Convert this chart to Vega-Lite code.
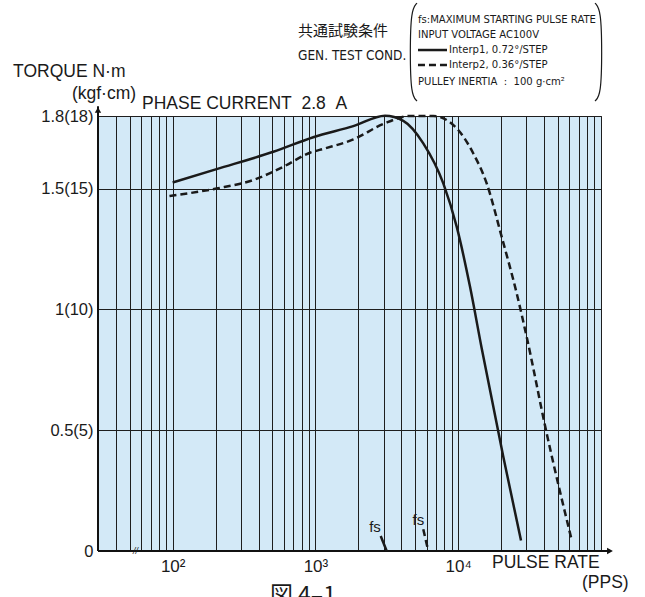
{
  "$schema": "https://vega.github.io/schema/vega-lite/v6.json",
  "width": 503,
  "height": 435,
  "autosize": {"type": "none"},
  "padding": {"left": 98, "top": 116, "right": 44, "bottom": 46},
  "background": "white",
  "config": {
    "view": {"fill": "#d3e9f7", "stroke": "#2a2a2a", "strokeWidth": 1},
    "font": "Liberation Sans"
  },
  "datasets": {
    "lines": [
      {"series": "Interp1", "pps": 100, "torque": 1.525},
      {"series": "Interp1", "pps": 203, "torque": 1.58},
      {"series": "Interp1", "pps": 507, "torque": 1.652},
      {"series": "Interp1", "pps": 966, "torque": 1.712},
      {"series": "Interp1", "pps": 1842, "torque": 1.758},
      {"series": "Interp1", "pps": 3070, "torque": 1.801},
      {"series": "Interp1", "pps": 4125, "torque": 1.78},
      {"series": "Interp1", "pps": 5692, "torque": 1.687},
      {"series": "Interp1", "pps": 7862, "torque": 1.521},
      {"series": "Interp1", "pps": 9757, "torque": 1.342},
      {"series": "Interp1", "pps": 12090, "torque": 1.094},
      {"series": "Interp1", "pps": 14600, "torque": 0.839},
      {"series": "Interp1", "pps": 20690, "torque": 0.39},
      {"series": "Interp1", "pps": 27530, "torque": 0.043},
      {"series": "Interp2", "pps": 95, "torque": 1.469},
      {"series": "Interp2", "pps": 203, "torque": 1.5},
      {"series": "Interp2", "pps": 367, "torque": 1.535},
      {"series": "Interp2", "pps": 595, "torque": 1.59},
      {"series": "Interp2", "pps": 916, "torque": 1.648},
      {"series": "Interp2", "pps": 1167, "torque": 1.666},
      {"series": "Interp2", "pps": 1842, "torque": 1.703},
      {"series": "Interp2", "pps": 2988, "torque": 1.767},
      {"series": "Interp2", "pps": 4596, "torque": 1.8},
      {"series": "Interp2", "pps": 6692, "torque": 1.8},
      {"series": "Interp2", "pps": 9757, "torque": 1.749},
      {"series": "Interp2", "pps": 12760, "torque": 1.645},
      {"series": "Interp2", "pps": 15850, "torque": 1.52},
      {"series": "Interp2", "pps": 20160, "torque": 1.3},
      {"series": "Interp2", "pps": 25680, "torque": 1.066},
      {"series": "Interp2", "pps": 30320, "torque": 0.88},
      {"series": "Interp2", "pps": 41190, "torque": 0.5},
      {"series": "Interp2", "pps": 62330, "torque": 0.045},
      {"series": "fs1", "pps": 2865, "torque": 0.062},
      {"series": "fs1", "pps": 3156, "torque": 0},
      {"series": "fs2", "pps": 5692, "torque": 0.09},
      {"series": "fs2", "pps": 6171, "torque": 0},
      {"series": "leg1", "pps": 5226, "torque": 2.073},
      {"series": "leg1", "pps": 8346, "torque": 2.073},
      {"series": "leg2", "pps": 5226, "torque": 2.011},
      {"series": "leg2", "pps": 8346, "torque": 2.011}
    ],
    "brackets": [
      {"side": "left", "seq": 0, "pps": 5144, "torque": 2.2675},
      {"side": "left", "seq": 1, "pps": 4670, "torque": 2.2386},
      {"side": "left", "seq": 2, "pps": 4596, "torque": 2.0648},
      {"side": "left", "seq": 3, "pps": 4670, "torque": 1.8868},
      {"side": "left", "seq": 4, "pps": 5144, "torque": 1.862},
      {"side": "right", "seq": 0, "pps": 90800, "torque": 2.2675},
      {"side": "right", "seq": 1, "pps": 100000, "torque": 2.2386},
      {"side": "right", "seq": 2, "pps": 101600, "torque": 2.0648},
      {"side": "right", "seq": 3, "pps": 100000, "torque": 1.8868},
      {"side": "right", "seq": 4, "pps": 90800, "torque": 1.862}
    ],
    "frame": [
      {"edge": "x", "pps": 30, "torque": 0, "pps2": 117500, "torque2": 0},
      {"edge": "y", "pps": 30, "torque": 0, "pps2": 30, "torque2": 1.84}
    ],
    "arrows": [
      {"edge": "x", "pps": 115600, "torque": 0},
      {"edge": "y", "pps": 30, "torque": 1.825}
    ],
    "labels": [
      {"kind": "big", "pps": 7.62, "torque": 1.982, "text": "TORQUE N·m"},
      {"kind": "big", "pps": 19.7, "torque": 1.891, "text": "(kgf·cm)"},
      {"kind": "big", "pps": 61, "torque": 1.85, "text": "PHASE CURRENT\u00a0\u00a02.8\u00a0\u00a0A"},
      {"kind": "big", "pps": 17240, "torque": -0.0497, "text": "PULSE RATE"},
      {"kind": "big", "pps": 73600, "torque": -0.132, "text": "(PPS)"},
      {"kind": "cjk", "pps": 755, "torque": 2.152, "text": "共通試験条件"},
      {"kind": "gen", "pps": 755, "torque": 2.048, "text": "GEN. TEST COND."},
      {"kind": "legend", "pps": 5226, "torque": 2.197, "text": "fs:MAXIMUM STARTING PULSE RATE"},
      {"kind": "legend", "pps": 5226, "torque": 2.135, "text": "INPUT VOLTAGE AC100V"},
      {"kind": "legend", "pps": 8615, "torque": 2.073, "text": "Interp1, 0.72°/STEP"},
      {"kind": "legend", "pps": 8615, "torque": 2.011, "text": "Interp2, 0.36°/STEP"},
      {"kind": "legend", "pps": 5226, "torque": 1.941, "text": "PULLEY INERTIA\u00a0\u00a0:\u00a0\u00a0100 g·cm²"},
      {"kind": "fs", "pps": 2613, "torque": 0.1005, "text": "fs"},
      {"kind": "fs", "pps": 5252, "torque": 0.128, "text": "fs"},
      {"kind": "fig", "pps": 480, "torque": -0.1407, "text": "図 4–1"},
      {"kind": "brk", "pps": 55, "torque": 0, "text": "//"}
    ]
  },
  "encoding": {
    "x": {
      "field": "pps",
      "type": "quantitative",
      "scale": {"type": "log", "domain": [30, 100000], "nice": false},
      "axis": {
        "title": null,
        "values": [30, 40, 50, 60, 70, 80, 90, 100, 200, 300, 400, 500, 600, 700, 800, 900, 1000, 2000, 3000, 4000, 5000, 6000, 7000, 8000, 9000, 10000, 20000, 30000, 40000, 50000, 60000, 70000, 80000, 90000, 100000],
        "grid": true,
        "gridColor": "#1e1e1e",
        "gridWidth": 1,
        "gridOpacity": 1,
        "ticks": false,
        "domain": false,
        "labelExpr": "datum.value == 100 ? '10²' : datum.value == 1000 ? '10³' : datum.value == 10000 ? '10⁴' : ''",
        "labelFontSize": 17,
        "labelColor": "#1a1a1a",
        "labelPadding": 7,
        "labelDx": 5,
        "labelOverlap": false,
        "labelFlush": false,
        "labelBound": false
      }
    },
    "y": {
      "field": "torque",
      "type": "quantitative",
      "scale": {"domain": [0, 1.8], "nice": false, "zero": false},
      "axis": {
        "title": null,
        "values": [0, 0.5, 1, 1.5, 1.8],
        "grid": true,
        "gridColor": "#1e1e1e",
        "gridWidth": 1,
        "gridOpacity": 1,
        "ticks": false,
        "domain": false,
        "labelExpr": "datum.value == 1.8 ? '1.8(18)' : datum.value == 1.5 ? '1.5(15)' : datum.value == 1 ? '1(10)' : datum.value == 0.5 ? '0.5(5)' : '0'",
        "labelFontSize": 16.5,
        "labelColor": "#1a1a1a",
        "labelPadding": 5,
        "labelFlush": false,
        "labelOverlap": false
      }
    }
  },
  "layer": [
    {
      "data": {"name": "frame"},
      "mark": {"type": "rule", "color": "#111", "strokeWidth": 2},
      "encoding": {
        "x2": {"field": "pps2"},
        "y2": {"field": "torque2"}
      }
    },
    {
      "data": {"name": "arrows"},
      "transform": [{"filter": "datum.edge == 'x'"}],
      "mark": {"type": "point", "shape": "triangle-right", "filled": true, "color": "#111", "size": 45, "opacity": 1}
    },
    {
      "data": {"name": "arrows"},
      "transform": [{"filter": "datum.edge == 'y'"}],
      "mark": {"type": "point", "shape": "triangle-up", "filled": true, "color": "#111", "size": 40, "opacity": 1}
    },
    {
      "data": {"name": "lines"},
      "transform": [{"filter": "datum.series == 'Interp1' || datum.series == 'fs1' || datum.series == 'leg1'"}],
      "mark": {"type": "line", "interpolate": "monotone", "color": "#1a1a1a", "strokeWidth": 2.5},
      "encoding": {"detail": {"field": "series"}}
    },
    {
      "data": {"name": "lines"},
      "transform": [{"filter": "datum.series == 'Interp2' || datum.series == 'fs2' || datum.series == 'leg2'"}],
      "mark": {"type": "line", "interpolate": "monotone", "color": "#1a1a1a", "strokeWidth": 2.5, "strokeDash": [7, 4]},
      "encoding": {"detail": {"field": "series"}}
    },
    {
      "data": {"name": "brackets"},
      "mark": {"type": "line", "interpolate": "basis", "color": "#1a1a1a", "strokeWidth": 1.2},
      "encoding": {"detail": {"field": "side"}, "order": {"field": "seq"}}
    },
    {
      "data": {"name": "labels"},
      "transform": [{"filter": "datum.kind == 'big'"}],
      "mark": {"type": "text", "align": "left", "baseline": "middle", "fontSize": 17.5, "color": "#1a1a1a"},
      "encoding": {"text": {"field": "text"}}
    },
    {
      "data": {"name": "labels"},
      "transform": [{"filter": "datum.kind == 'cjk'"}],
      "mark": {"type": "text", "align": "left", "baseline": "middle", "fontSize": 15, "font": "Noto Sans CJK JP", "color": "#1a1a1a"},
      "encoding": {"text": {"field": "text"}}
    },
    {
      "data": {"name": "labels"},
      "transform": [{"filter": "datum.kind == 'gen'"}],
      "mark": {"type": "text", "align": "left", "baseline": "middle", "fontSize": 13.5, "font": "DejaVu Sans Condensed", "color": "#1a1a1a"},
      "encoding": {"text": {"field": "text"}}
    },
    {
      "data": {"name": "labels"},
      "transform": [{"filter": "datum.kind == 'legend'"}],
      "mark": {"type": "text", "align": "left", "baseline": "middle", "fontSize": 11.2, "font": "DejaVu Sans Condensed", "color": "#1a1a1a"},
      "encoding": {"text": {"field": "text"}}
    },
    {
      "data": {"name": "labels"},
      "transform": [{"filter": "datum.kind == 'fs'"}],
      "mark": {"type": "text", "align": "center", "baseline": "middle", "fontSize": 15, "color": "#1a1a1a"},
      "encoding": {"text": {"field": "text"}}
    },
    {
      "data": {"name": "labels"},
      "transform": [{"filter": "datum.kind == 'fig'"}],
      "mark": {"type": "text", "align": "left", "baseline": "top", "fontSize": 23, "font": "Noto Sans CJK JP", "color": "#1a1a1a"},
      "encoding": {"text": {"field": "text"}}
    },
    {
      "data": {"name": "labels"},
      "transform": [{"filter": "datum.kind == 'brk'"}],
      "mark": {"type": "text", "align": "center", "baseline": "middle", "fontSize": 9, "fontStyle": "italic", "color": "#1a1a1a"},
      "encoding": {"text": {"field": "text"}}
    }
  ]
}
